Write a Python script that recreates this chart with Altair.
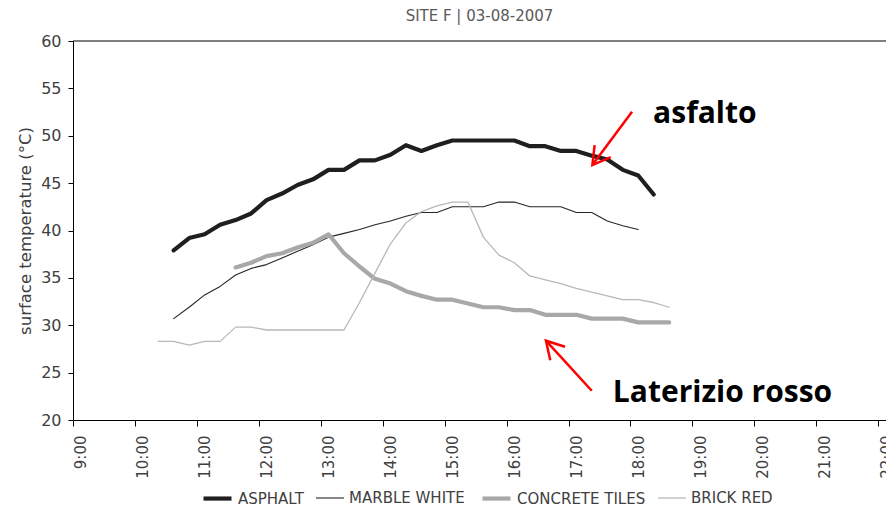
import altair as alt
import pandas as pd

# ---- data (15-minute readings) ----
TIMES = ["10:15", "10:30", "10:45", "11:00", "11:15", "11:30", "11:45", "12:00",
         "12:15", "12:30", "12:45", "13:00", "13:15", "13:30", "13:45", "14:00",
         "14:15", "14:30", "14:45", "15:00", "15:15", "15:30", "15:45", "16:00",
         "16:15", "16:30", "16:45", "17:00", "17:15", "17:30", "17:45", "18:00",
         "18:15", "18:30"]

ASPHALT = [None, 37.9, 39.2, 39.6, 40.6, 41.1, 41.8, 43.2, 43.9, 44.8, 45.4,
           46.4, 46.4, 47.4, 47.4, 48.0, 49.0, 48.4, 49.0, 49.5, 49.5,
           49.5, 49.5, 49.5, 48.9, 48.9, 48.4, 48.4, 47.9, 47.5, 46.4, 45.8, 43.8, None]
MARBLE_WHITE = [None, 30.7, 31.9, 33.2, 34.1, 35.3, 36.0, 36.4, 37.1, 37.8, 38.5,
                39.3, 39.7, 40.1, 40.6, 41.0, 41.5, 41.9,
                41.9, 42.5, 42.5, 42.5, 43.0, 43.0,
                42.5, 42.5, 42.5, 41.9, 41.9, 41.0, 40.5, 40.1, None, None]
CONCRETE_TILES = [None, None, None, None, None,
                  36.1, 36.6, 37.3, 37.6, 38.2, 38.7,
                  39.6, 37.6, 36.2, 34.9, 34.4, 33.6, 33.1, 32.7,
                  32.7, 32.3, 31.9, 31.9,
                  31.6, 31.6, 31.1, 31.1, 31.1, 30.7, 30.7, 30.7, 30.3, 30.3, 30.3]
BRICK_RED = [28.3, 28.3, 27.9, 28.3, 28.3, 29.8, 29.8,
             29.5, 29.5, 29.5, 29.5, 29.5, 29.5,
             32.4, 35.5, 38.6, 40.8, 42.0, 42.6, 43.0, 43.0,
             39.3, 37.4, 36.6, 35.2, 34.8, 34.4, 33.9, 33.5, 33.1, 32.7, 32.7, 32.4, 31.9]

SERIES = ["ASPHALT", "MARBLE WHITE", "CONCRETE TILES", "BRICK RED"]
COLORS = ["#1f1f1f", "#262626", "#a8a8a8", "#b8b8b8"]
WIDTHS = [4.2, 1.1, 4.2, 1.3]

HOUR_LABELS = ["9:00", "10:00", "11:00", "12:00", "13:00", "14:00", "15:00",
               "16:00", "17:00", "18:00", "19:00", "20:00", "21:00", "22:00"]
Y_TICKS = [20, 25, 30, 35, 40, 45, 50, 55, 60]

# annotations (in data units: hour of day, °C)
ANNOT_TEXT = ["asfalto", "Laterizio rosso"]
ANNOT_HOUR = [18.24, 17.59]
ANNOT_TEMP = [51.35, 21.93]
ARROW_FROM_HOUR = [17.90, 17.25]
ARROW_FROM_TEMP = [52.54, 23.09]
ARROW_TO_HOUR = [17.26, 16.51]
ARROW_TO_TEMP = [46.91, 28.37]
ARROW_ANGLE = [36.4, 137.5]


def to_hour(s):
    h, m = s.split(":")
    return int(h) + int(m) / 60.0


rows = []
for name, vals in zip(SERIES, [ASPHALT, MARBLE_WHITE, CONCRETE_TILES, BRICK_RED]):
    for t, v in zip(TIMES, vals):
        if v is not None:
            rows.append({"series": name, "hour": to_hour(t), "temp": v})
df = pd.DataFrame(rows)

first_hour = to_hour(HOUR_LABELS[0])
last_hour = to_hour(HOUR_LABELS[-1])
# category centres every 15 minutes (Excel-style category axis)
tick_values = [first_hour + 0.25 * k for k in range(int((last_hour - first_hour) * 4) + 1)]

W, H = 813, 379
x_dom = [first_hour - 0.125, last_hour]
half_cat_px = W / (x_dom[1] - x_dom[0]) * 0.125

FONT = "DejaVu Sans"
TXT = "#404040"

xscale = alt.Scale(domain=x_dom, nice=False, zero=False)
yscale = alt.Scale(domain=[Y_TICKS[0], Y_TICKS[-1]], nice=False, zero=False)

x_axis = alt.Axis(
    values=tick_values,
    labelExpr="datum.value % 1 == 0 ? floor(datum.value) + ':00' : ''",
    tickOffset=-half_cat_px,
    labelOffset=half_cat_px,
    labelAngle=270,
    labelOverlap=False,
    labelFlush=False,
    tickSize=6,
    labelPadding=9,
    grid=False,
    title=None,
    labelFont=FONT,
    labelFontSize=15,
    labelColor=TXT,
    domainColor="#000000",
    tickColor="#000000",
)
y_axis = alt.Axis(
    values=Y_TICKS,
    tickSize=5,
    labelPadding=7,
    grid=False,
    title="surface temperature (°C)",
    titleFont=FONT,
    titleFontSize=16.5,
    titleFontWeight="normal",
    titleColor=TXT,
    titlePadding=7,
    labelFont=FONT,
    labelFontSize=16,
    labelColor=TXT,
    domainColor="#000000",
    tickColor="#000000",
)

lines = alt.Chart(df).mark_line(strokeCap="round", strokeJoin="round").encode(
    x=alt.X("hour:Q", scale=xscale, axis=x_axis),
    y=alt.Y("temp:Q", scale=yscale, axis=y_axis),
    color=alt.Color("series:N", scale=alt.Scale(domain=SERIES, range=COLORS),
                    legend=alt.Legend(title=None)),
    strokeWidth=alt.StrokeWidth("series:N",
                                scale=alt.Scale(type="ordinal", domain=SERIES, range=WIDTHS),
                                legend=alt.Legend(title=None)),
    order=alt.Order("hour:Q"),
)

top_line = alt.Chart(pd.DataFrame({"temp": [Y_TICKS[-1]]})).mark_rule(
    color="#000000", strokeWidth=1
).encode(y=alt.Y("temp:Q", scale=yscale))

ann_df = pd.DataFrame({"label": ANNOT_TEXT, "hour": ANNOT_HOUR, "temp": ANNOT_TEMP})
labels = alt.Chart(ann_df).mark_text(
    align="left", baseline="alphabetic", font="Open Sans", fontWeight="bold",
    fontSize=30, color="#000000"
).encode(x=alt.X("hour:Q", scale=xscale), y=alt.Y("temp:Q", scale=yscale), text="label:N")

arr_df = pd.DataFrame({
    "hour": ARROW_FROM_HOUR, "temp": ARROW_FROM_TEMP,
    "hour2": ARROW_TO_HOUR, "temp2": ARROW_TO_TEMP, "ang": ARROW_ANGLE,
})
shafts = alt.Chart(arr_df).mark_rule(color="#ff0000", strokeWidth=2.5).encode(
    x=alt.X("hour:Q", scale=xscale), x2="hour2:Q",
    y=alt.Y("temp:Q", scale=yscale), y2="temp2:Q",
)
heads = alt.Chart(arr_df).mark_point(
    shape="M -0.5 -0.866 L 0 0 L 0.5 -0.866", filled=False, color="#ff0000",
    strokeWidth=2.5, size=1600, opacity=1
).encode(
    x=alt.X("hour2:Q", scale=xscale),
    y=alt.Y("temp2:Q", scale=yscale),
    angle=alt.Angle("ang:Q", scale=None),
)

chart = alt.layer(lines, top_line, shafts, heads, labels).properties(
    width=W,
    height=H,
    title=alt.Title("SITE F | 03-08-2007", font=FONT, fontSize=15, fontWeight="normal",
                    color="#595959", anchor="middle", offset=9),
    autosize=alt.AutoSizeParams(type="none"),
    padding={"left": 65, "top": 33, "right": 0, "bottom": 89},
).configure_view(stroke=None).configure_legend(
    orient="none",
    legendX=128,
    legendY=441,
    direction="horizontal",
    symbolType="stroke",
    symbolSize=784,
    labelFont=FONT,
    labelFontSize=15,
    labelColor=TXT,
    labelOffset=4,
    columnPadding=9,
)

chart.save("out.html", embed_options={"renderer": "svg", "actions": False})
